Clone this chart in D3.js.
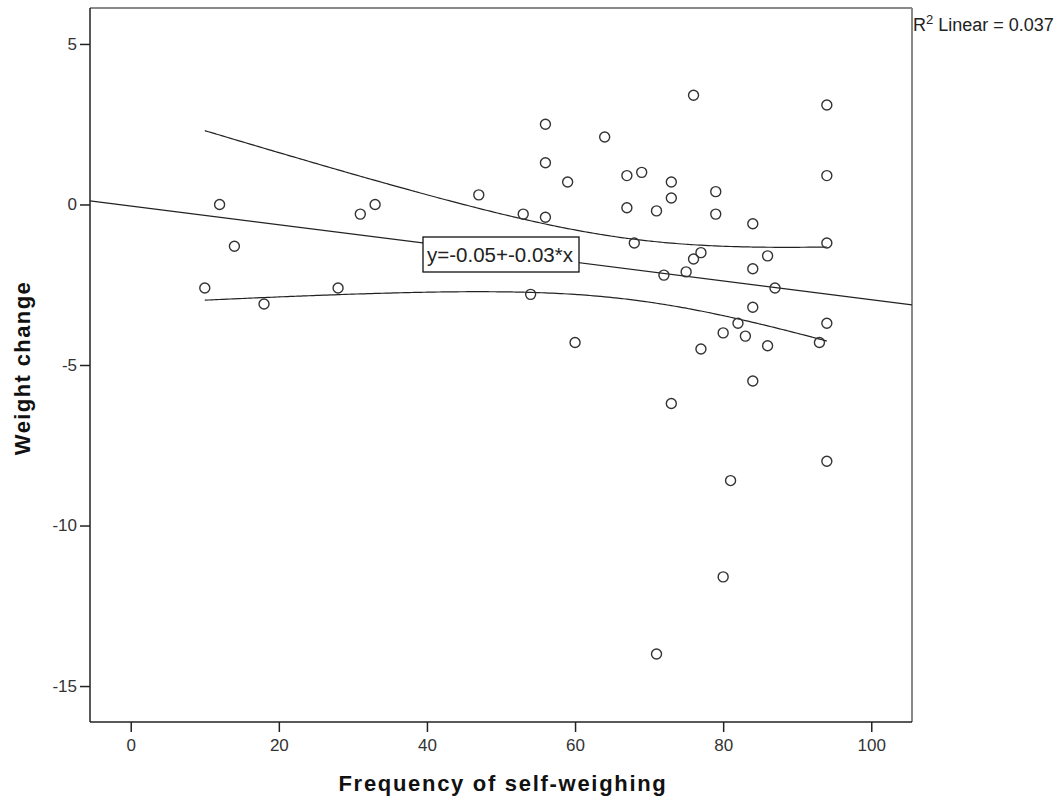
<!DOCTYPE html>
<html>
<head>
<meta charset="utf-8">
<script src="https://cdn.jsdelivr.net/npm/d3@7"></script>
<style>
  body { margin: 0; background: #fff; }
  text { font-family: "Liberation Sans", Arial, sans-serif; }
</style>
</head>
<body>
<svg width="1064" height="800"></svg>
<script>
// self-weighing frequency vs weight change
const freq = [10, 12, 14, 18, 28, 31, 33, 47, 53, 54,
              56, 56, 56, 59, 60, 64, 67, 67, 68, 69,
              71, 71, 72, 73, 73, 73, 75, 76, 76, 77,
              77, 79, 79, 80, 80, 81, 82, 83, 84, 84,
              84, 84, 86, 86, 87, 93, 94, 94, 94, 94, 94];
const change = [-2.6, 0.0, -1.3, -3.1, -2.6, -0.3, 0.0, 0.3, -0.3, -2.8,
                2.5, 1.3, -0.4, 0.7, -4.3, 2.1, 0.9, -0.1, -1.2, 1.0,
                -14.0, -0.2, -2.2, 0.7, 0.2, -6.2, -2.1, -1.7, 3.4, -1.5,
                -4.5, 0.4, -0.3, -4.0, -11.6, -8.6, -3.7, -4.1, -0.6, -2.0,
                -3.2, -5.5, -1.6, -4.4, -2.6, -4.3, 3.1, 0.9, -1.2, -3.7, -8.0];
const xTicks = [0, 20, 40, 60, 80, 100];
const yTicks = [5, 0, -5, -10, -15];

const svg = d3.select('svg');

const plotLeft = 90, plotRight = 912, plotTop = 8, plotBottom = 722;

const x = d3.scaleLinear().domain([-5.5, 105.5]).range([plotLeft, plotRight]);
const y = d3.scaleLinear().domain([-16.12, 6.12]).range([plotBottom, plotTop]);

const points = freq.map((f, i) => ({x: f, y: change[i]}));

// least squares fit + 95% CI of the mean
const n = points.length;
const mx = d3.mean(freq), my = d3.mean(change);
const sxx = d3.sum(freq, v => (v - mx) * (v - mx));
const sxy = d3.sum(points, p => (p.x - mx) * (p.y - my));
const slope = sxy / sxx;
const intercept = my - slope * mx;
const sse = d3.sum(points, p => Math.pow(p.y - (intercept + slope * p.x), 2));
const se = Math.sqrt(sse / (n - 2));
const tval = 2.01;

const band = d3.range(d3.min(freq), d3.max(freq) + 0.01, 0.5).map(v => {
  const fit = intercept + slope * v;
  const half = tval * se * Math.sqrt(1 / n + (v - mx) * (v - mx) / sxx);
  return {x: v, lo: fit - half, hi: fit + half};
});

// frame: grey top/right, dark bottom/left
svg.append('line')
    .attr('x1', plotLeft).attr('x2', plotRight).attr('y1', plotTop).attr('y2', plotTop)
    .attr('stroke', '#8a8a8a').attr('stroke-width', 2);
svg.append('line')
    .attr('x1', plotRight).attr('x2', plotRight).attr('y1', plotTop).attr('y2', plotBottom)
    .attr('stroke', '#8a8a8a').attr('stroke-width', 2);

const plot = svg.append('g');

const fitLine = d3.line().x(d => x(d)).y(d => y(intercept + slope * d));
plot.append('path')
    .attr('d', fitLine(x.domain()))
    .attr('fill', 'none')
    .attr('stroke', '#222')
    .attr('stroke-width', 1.2);

const hiLine = d3.line().x(d => x(d.x)).y(d => y(d.hi)).curve(d3.curveBasis);
const loLine = d3.line().x(d => x(d.x)).y(d => y(d.lo)).curve(d3.curveBasis);
plot.append('path').attr('d', hiLine(band))
    .attr('fill', 'none').attr('stroke', '#222').attr('stroke-width', 1.2);
plot.append('path').attr('d', loLine(band))
    .attr('fill', 'none').attr('stroke', '#222').attr('stroke-width', 1.2);

plot.selectAll('circle')
    .data(points)
    .enter()
    .append('circle')
        .attr('cx', d => x(d.x))
        .attr('cy', d => y(d.y))
        .attr('r', 5)
        .attr('fill', 'none')
        .attr('stroke', '#333')
        .attr('stroke-width', 1.4);

// axes
const xAxis = svg.append('g')
    .attr('transform', `translate(0,${plotBottom})`)
    .call(d3.axisBottom(x).tickValues(xTicks).tickFormat(d => String(d))
        .tickSize(10).tickPadding(7));
const yAxis = svg.append('g')
    .attr('transform', `translate(${plotLeft},0)`)
    .call(d3.axisLeft(y).tickValues(yTicks).tickFormat(d => String(d))
        .tickSize(10).tickPadding(3));

[xAxis, yAxis].forEach(a => {
  a.select('.domain').attr('stroke', '#222').attr('stroke-width', 1.5);
  a.selectAll('.tick line').attr('stroke', '#222').attr('stroke-width', 1.5);
  a.selectAll('.tick text')
      .attr('fill', '#333')
      .style('font-size', '17px')
      .style('font-family', '"Liberation Sans", Arial, sans-serif');
});
xAxis.select('.domain').attr('d', `M${plotLeft},0H${plotRight}`);
yAxis.select('.domain').attr('d', `M0,${plotTop}V${plotBottom}`);

// equation box
const eqG = svg.append('g').attr('transform', 'translate(423,237)');
eqG.append('rect')
    .attr('width', 156).attr('height', 35)
    .attr('fill', '#fff').attr('stroke', '#111').attr('stroke-width', 1.3);
eqG.append('text')
    .attr('x', 77).attr('y', 25)
    .attr('text-anchor', 'middle')
    .style('font-size', '20.5px')
    .attr('fill', '#222')
    .text('y=-0.05+-0.03*x');

// R2 label
const r2 = svg.append('text')
    .attr('x', 913).attr('y', 31)
    .style('font-size', '18px')
    .attr('fill', '#222');
r2.append('tspan').text('R');
r2.append('tspan').attr('dy', -7).style('font-size', '13px').text('2');
r2.append('tspan').attr('dy', 7).text(' Linear = 0.037');

// axis titles
svg.append('text')
    .attr('x', 503).attr('y', 791)
    .attr('text-anchor', 'middle')
    .style('font-size', '22px')
    .style('font-weight', 'bold')
    .style('letter-spacing', '1.7px')
    .attr('fill', '#111')
    .text('Frequency of self-weighing');

svg.append('text')
    .attr('transform', 'translate(30,368) rotate(-90)')
    .attr('text-anchor', 'middle')
    .style('font-size', '22px')
    .style('font-weight', 'bold')
    .style('letter-spacing', '1.4px')
    .attr('fill', '#111')
    .text('Weight change');
</script>
</body>
</html>
